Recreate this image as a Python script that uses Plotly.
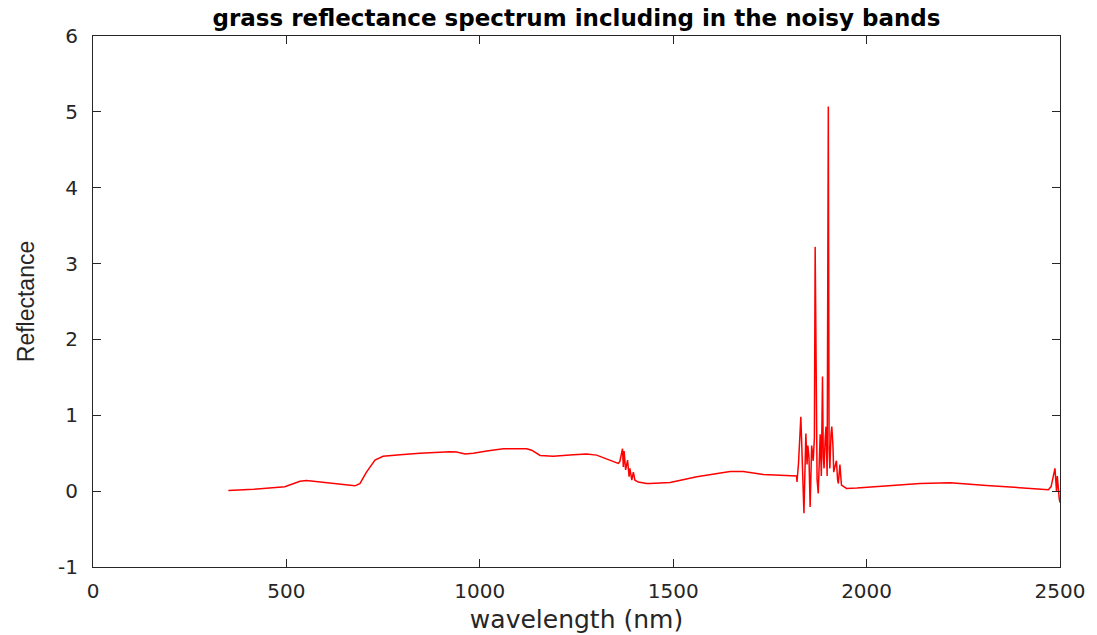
import plotly.graph_objects as go

# wavelength (nm) and reflectance
wavelength = [
    350, 415, 496, 509, 535, 552, 587, 639, 677, 690, 707, 729, 750, 794, 845,
    923, 940, 962, 983, 1018, 1061, 1121, 1134, 1156, 1190, 1242, 1276, 1302,
    1328, 1358, 1362, 1365, 1369, 1371, 1373, 1377, 1382, 1386, 1388, 1393,
    1397, 1401, 1410, 1431, 1440, 1492, 1561, 1647, 1681, 1733, 1776, 1815,
    1819, 1820, 1824, 1830, 1834, 1838, 1843, 1846, 1848, 1851, 1854, 1858,
    1862, 1865, 1867, 1870, 1872, 1875, 1878, 1880, 1883, 1886, 1888, 1890,
    1893, 1895, 1898, 1901, 1903, 1905, 1908, 1910, 1913, 1915, 1918, 1922,
    1925, 1927, 1931, 1935, 1948, 1975, 2138, 2216, 2310, 2397, 2470, 2477,
    2487, 2491, 2493, 2498, 2500,
]
reflectance = [
    0.01, 0.026, 0.057, 0.08, 0.13, 0.14, 0.12, 0.10, 0.07, 0.10, 0.25, 0.41,
    0.46, 0.48, 0.50, 0.52, 0.515, 0.49, 0.50, 0.53, 0.56, 0.56, 0.54, 0.47,
    0.46, 0.48, 0.49, 0.475, 0.42, 0.365, 0.39, 0.45, 0.56, 0.32, 0.53, 0.28,
    0.41, 0.19, 0.30, 0.145, 0.25, 0.145, 0.12, 0.10, 0.10, 0.115, 0.19, 0.26,
    0.26, 0.22, 0.21, 0.21, 0.20, 0.12, 0.37, 0.98, 0.25, -0.29, 0.76, 0.35,
    0.60, 0.45, -0.21, 0.60, 0.40, 0.70, 3.22, 0.90, 0.15, -0.03, 0.55, 0.75,
    0.20, 1.51, 0.45, 0.30, 0.70, 0.85, 0.20, 5.07, 0.55, 0.30, 0.75, 0.85,
    0.60, 0.25, 0.32, 0.40, 0.15, 0.10, 0.35, 0.08, 0.035, 0.04, 0.10, 0.11,
    0.075, 0.05, 0.02, 0.06, 0.30, 0.0, 0.20, -0.10, -0.15,
]

x_ticks = [0, 500, 1000, 1500, 2000, 2500]
y_ticks = [-1, 0, 1, 2, 3, 4, 5, 6]
y_tick_text = ["-1", "0", "1", "2", "3", "4", "5", "6"]

fig = go.Figure()
fig.add_trace(go.Scatter(x=wavelength, y=reflectance, mode="lines",
                         line=dict(color="#ff0000", width=1.5), showlegend=False))

axis_style = dict(
    showgrid=False, zeroline=False, showline=True, linecolor="#262626", linewidth=1,
    mirror="allticks", ticks="inside", ticklen=8, tickcolor="#262626", automargin=False,
    tickfont=dict(family="DejaVu Sans", size=20, color="#262626"),
)

fig.update_layout(
    width=1097, height=635,
    paper_bgcolor="white", plot_bgcolor="white",
    margin=dict(l=93, r=37, t=36, b=68),
    title=dict(text="<b>grass reflectance spectrum including in the noisy bands</b>",
               xref="paper", x=0.5, xanchor="center",
               yref="container", y=0.972, yanchor="middle",
               font=dict(family="DejaVu Sans", size=23, color="black")),
    xaxis=dict(range=[0, 2500], tickvals=x_ticks, ticklabelstandoff=6,
               title=dict(text="wavelength (nm)", standoff=8,
                          font=dict(family="DejaVu Sans", size=25, color="#262626")),
               **axis_style),
    yaxis=dict(range=[-1, 6], tickvals=y_ticks, ticktext=y_tick_text, ticklabelstandoff=10,
               title=dict(text="Reflectance", standoff=16,
                          font=dict(family="Liberation Sans", size=23, color="#262626")),
               **axis_style),
)

# drop the page's default body margin so the figure fills the window
fig.write_html("out.html", config={"displayModeBar": False},
               post_script="document.body.style.margin='0';")
